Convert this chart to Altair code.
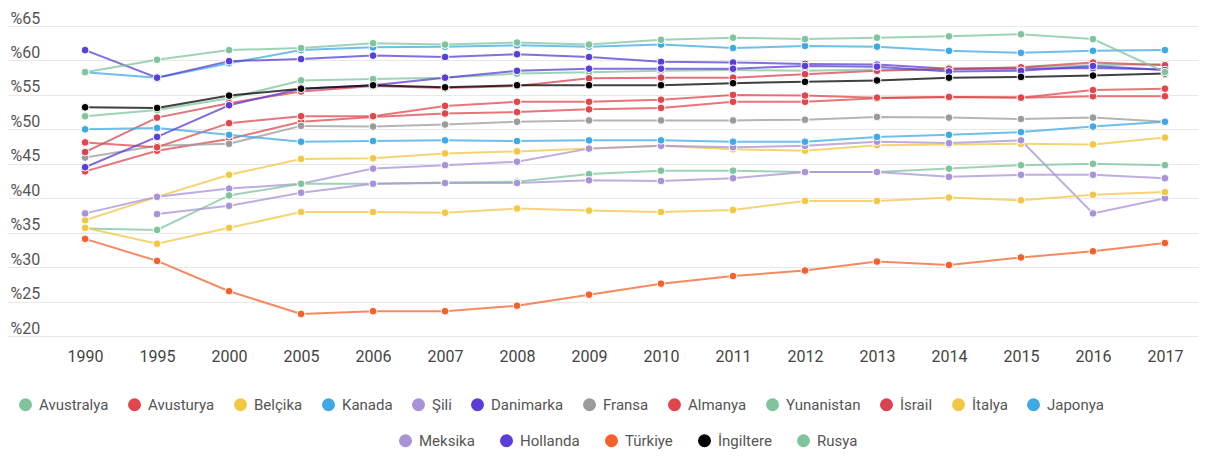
import altair as alt
import pandas as pd

years = ["1990", "1995", "2000", "2005", "2006", "2007", "2008", "2009",
         "2010", "2011", "2012", "2013", "2014", "2015", "2016", "2017"]

y_ticks = [20, 25, 30, 35, 40, 45, 50, 55, 60, 65]

countries_row1 = ["Avustralya", "Avusturya", "Belçika", "Kanada", "Şili", "Danimarka",
                  "Fransa", "Almanya", "Yunanistan", "İsrail", "İtalya", "Japonya"]
countries_row2 = ["Meksika", "Hollanda", "Türkiye", "İngiltere", "Rusya"]

colors_row1 = ["#7fc49d", "#e0474c", "#f2c744", "#3fa9e3", "#a893d6", "#5a3ed6",
               "#9b9b9b", "#e0474c", "#7fc49d", "#d9434f", "#f2c744", "#3fa9e3"]
colors_row2 = ["#a893d6", "#5a3ed6", "#f4612c", "#000000", "#7fc49d"]

avustralya = [51.9, 52.8, 54.5, 57.1, 57.3, 57.5, 58.1, 58.3, 58.5, 58.6, 58.5, 58.7, 58.7, 59.0, 59.3, 59.5]
avusturya = [43.9, 46.9, 48.6, 51.1, 51.8, 52.3, 52.5, 52.9, 53.1, 54.0, 54.0, 54.5, 54.7, 54.6, 54.8, 54.8]
belcika = [36.8, 40.2, 43.4, 45.7, 45.8, 46.5, 46.8, 47.2, 47.6, 47.1, 46.9, 47.7, 47.8, 47.9, 47.8, 48.8]
kanada = [58.3, 57.5, 59.6, 61.5, 61.9, 62.0, 62.2, 62.0, 62.3, 61.8, 62.1, 62.0, 61.4, 61.1, 61.4, 61.5]
sili = [37.8, 40.2, 41.4, 42.1, 44.3, 44.8, 45.3, 47.2, 47.6, 47.4, 47.6, 48.2, 48.0, 48.4, 37.8, 40.0]
danimarka = [61.5, 57.5, 59.9, 60.2, 60.7, 60.5, 60.9, 60.5, 59.8, 59.7, 59.5, 59.4, 58.8, 58.8, 58.9, 58.7]
fransa = [45.9, 47.6, 47.9, 50.5, 50.4, 50.7, 51.1, 51.3, 51.3, 51.3, 51.4, 51.8, 51.7, 51.5, 51.7, 51.1]
almanya = [48.1, 47.4, 50.9, 51.9, 51.9, 53.4, 54.0, 54.0, 54.3, 55.0, 54.9, 54.6, 54.7, 54.6, 55.7, 55.9]
yunanistan = [35.6, 35.4, 40.4, 42.1, 42.1, 42.3, 42.4, 43.5, 44.0, 44.0, 43.8, 43.8, 44.3, 44.8, 45.0, 44.8]
israil = [46.7, 51.7, 53.8, 55.5, 56.3, 56.0, 56.3, 57.4, 57.5, 57.5, 58.0, 58.5, 58.8, 59.0, 59.7, 59.3]
italya = [35.7, 33.4, 35.7, 38.0, 38.0, 37.9, 38.5, 38.2, 38.0, 38.3, 39.6, 39.6, 40.1, 39.7, 40.5, 40.9]
japonya = [50.0, 50.2, 49.2, 48.2, 48.3, 48.4, 48.3, 48.4, 48.4, 48.2, 48.2, 48.9, 49.2, 49.6, 50.4, 51.1]
meksika = [None, 37.7, 38.9, 40.8, 42.1, 42.2, 42.2, 42.6, 42.5, 42.9, 43.8, 43.8, 43.1, 43.4, 43.4, 42.9]
hollanda = [44.5, 48.9, 53.5, 55.9, 56.4, 57.5, 58.5, 58.8, 58.8, 58.8, 59.2, 59.1, 58.4, 58.5, 59.2, 58.6]
turkiye = [34.1, 30.9, 26.5, 23.2, 23.6, 23.6, 24.4, 26.0, 27.6, 28.7, 29.5, 30.8, 30.3, 31.4, 32.3, 33.5]
ingiltere = [53.2, 53.1, 54.9, 55.9, 56.4, 56.1, 56.4, 56.4, 56.4, 56.7, 56.9, 57.1, 57.5, 57.6, 57.8, 58.1]
rusya = [58.3, 60.1, 61.5, 61.8, 62.5, 62.3, 62.6, 62.3, 63.0, 63.3, 63.1, 63.3, 63.5, 63.8, 63.1, 58.3]

series = {
    "Avustralya": avustralya, "Avusturya": avusturya, "Belçika": belcika,
    "Kanada": kanada, "Şili": sili, "Danimarka": danimarka, "Fransa": fransa,
    "Almanya": almanya, "Yunanistan": yunanistan, "İsrail": israil,
    "İtalya": italya, "Japonya": japonya, "Meksika": meksika,
    "Hollanda": hollanda, "Türkiye": turkiye, "İngiltere": ingiltere,
    "Rusya": rusya,
}

rows = []
for c, vals in series.items():
    for yr, v in zip(years, vals):
        if v is not None:
            rows.append({"country": c, "year": yr, "value": v})
df = pd.DataFrame(rows)
df1 = df[df["country"].isin(countries_row1)]
df2 = df[df["country"].isin(countries_row2)]

FONT = "Roboto"

x_enc = alt.X(
    "year:O", sort=years,
    scale=alt.Scale(type="point", padding=0.765, align=0.7),
    axis=alt.Axis(title=None, labelAngle=0, domain=False, ticks=False,
                  labelPadding=12, labelFontSize=16, labelColor="#444", grid=False),
)
y_enc = alt.Y(
    "value:Q",
    scale=alt.Scale(domain=[20, 65], nice=False, zero=False),
    axis=alt.Axis(title=None, values=y_ticks, labelExpr="'%' + datum.value",
                  domain=False, ticks=False, tickSize=0, labelAlign="left",
                  labelBaseline="bottom", labelPadding=-2, labelFontSize=16,
                  labelColor="#555", grid=True, gridColor="#e8e8e8"),
)


def legend(x, y, cols, gap):
    return alt.Legend(title=None, orient="none", legendX=x, legendY=y,
                      direction="horizontal", columns=cols, symbolType="circle",
                      symbolSize=170, symbolStrokeWidth=0, labelFontSize=15,
                      labelColor="#555", labelOffset=6, columnPadding=gap, padding=0)


def lines(d, doms, rng):
    return alt.Chart(d).mark_line(strokeWidth=2, opacity=0.75).encode(
        x=x_enc, y=y_enc,
        color=alt.Color("country:N", scale=alt.Scale(domain=doms, range=rng), legend=None),
        detail="country:N",
    )


def points(d, doms, rng, lg):
    return alt.Chart(d).mark_point(filled=True, size=60, stroke="white",
                                   strokeWidth=1, opacity=1).encode(
        x=x_enc, y=y_enc,
        color=alt.Color("country:N", scale=alt.Scale(domain=doms, range=rng), legend=lg),
    )


chart = alt.layer(
    lines(df1, countries_row1, colors_row1),
    lines(df2, countries_row2, colors_row2),
    points(df1, countries_row1, colors_row1, legend(10, 371, 12, 18)),
    points(df2, countries_row2, colors_row2, legend(390, 407, 5, 24)),
).resolve_scale(color="independent").properties(
    width=1190, height=310,
    padding={"left": 0, "top": 2, "right": 5, "bottom": 5},
).configure(font=FONT).configure_view(stroke=None)

chart.save("out.html", embed_options={"renderer": "svg", "actions": False})
